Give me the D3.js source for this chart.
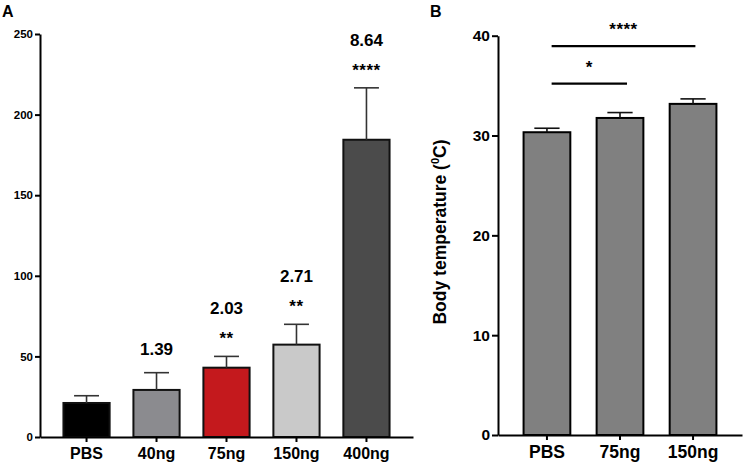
<!DOCTYPE html>
<html>
<head>
<meta charset="utf-8">
<script src="https://cdn.jsdelivr.net/npm/d3@7"></script>
<style>
  html, body { margin: 0; padding: 0; background: #fff; }
  svg { display: block; }
  text { font-family: "Liberation Sans", Arial, Helvetica, sans-serif; font-weight: bold; fill: #000; }
</style>
</head>
<body>
<svg id="chart" width="744" height="467"></svg>
<script>
// ---------- Data ----------
const catsA = ["PBS", "40ng", "75ng", "150ng", "400ng"];
const valuesA = [21.1, 29.2, 43.0, 57.3, 184.4];
const errA = [4.5, 10.7, 7.0, 12.6, 32.2];
const foldA = ["", "1.39", "2.03", "2.71", "8.64"];
const starsA = ["", "", "**", "**", "****"];
const colorsA = ["#000000", "#8b8b8f", "#c4191d", "#c9c9c9", "#4b4b4b"];
const ticksA = [0, 50, 100, 150, 200, 250];

const catsB = ["PBS", "75ng", "150ng"];
const valuesB = [30.33, 31.76, 33.17];
const errB = [0.40, 0.54, 0.50];
const ticksB = [0, 10, 20, 30, 40];
const sigB = [
  { from: "PBS", to: "75ng", label: "*" },
  { from: "PBS", to: "150ng", label: "****" }
];
const sigLevelsB = [35.2, 38.95];
const yTitleB = "Body temperature (";

// ---------- Drawing ----------
const svg = d3.select("#chart");
const FONT = "\"Liberation Sans\", Arial, Helvetica, sans-serif";

function styleAxis(g, size) {
  g.selectAll("path, line").attr("stroke", "#000").attr("stroke-width", 2);
  g.selectAll("text").style("font-size", size).style("font-family", FONT).style("font-weight", "bold").attr("fill", "#000");
}

// ===== Panel A =====
const xA = d3.scaleBand().domain(catsA).range([40, 413]).paddingInner(0.34).paddingOuter(0.335);
const yA = d3.scaleLinear().domain([0, 250]).range([437, 34]);

const gA = svg.append("g");

gA.selectAll("rect.bar").data(catsA).join("rect")
  .attr("class", "bar")
  .attr("x", d => xA(d))
  .attr("y", (d, i) => yA(valuesA[i]))
  .attr("width", xA.bandwidth())
  .attr("height", (d, i) => yA(0) - yA(valuesA[i]))
  .attr("fill", (d, i) => colorsA[i])
  .attr("stroke", "#111")
  .attr("stroke-width", 2);

const capA = xA.bandwidth() * 0.27;
catsA.forEach((c, i) => {
  const cx = xA(c) + xA.bandwidth() / 2;
  const top = yA(valuesA[i] + errA[i]);
  gA.append("line").attr("x1", cx).attr("x2", cx).attr("y1", yA(valuesA[i])).attr("y2", top)
    .attr("stroke", "#333").attr("stroke-width", 1.6);
  gA.append("line").attr("x1", cx - capA).attr("x2", cx + capA).attr("y1", top).attr("y2", top)
    .attr("stroke", "#333").attr("stroke-width", 1.6);
  let yPos = top - 18;
  if (starsA[i]) {
    gA.append("text").attr("x", cx).attr("y", yPos + 6).attr("text-anchor", "middle")
      .style("font-size", "17px").style("letter-spacing", "0.5px").text(starsA[i]);
    yPos -= 24;
  }
  if (foldA[i]) {
    gA.append("text").attr("x", cx).attr("y", yPos).attr("text-anchor", "middle")
      .style("font-size", "17px").text(foldA[i]);
  }
});

const axYA = gA.append("g").attr("transform", "translate(40,0)")
  .call(d3.axisLeft(yA).tickValues(ticksA).tickSize(5).tickSizeOuter(0).tickPadding(2));
styleAxis(axYA, "11.5px");

const axXA = gA.append("g").attr("transform", "translate(0,437)")
  .call(d3.axisBottom(xA).tickSize(5).tickSizeOuter(0).tickPadding(6));
styleAxis(axXA, "16px");

svg.append("text").attr("x", 2).attr("y", 17).style("font-size", "16px").text("A");

// ===== Panel B =====
const xB = d3.scaleBand().domain(catsB).range([498, 742]).paddingInner(0.36).paddingOuter(0.35);
const yB = d3.scaleLinear().domain([0, 40]).range([435, 35.7]);

const gB = svg.append("g");
gB.selectAll("rect.bar").data(catsB).join("rect")
  .attr("class", "bar")
  .attr("x", d => xB(d))
  .attr("y", (d, i) => yB(valuesB[i]))
  .attr("width", xB.bandwidth())
  .attr("height", (d, i) => yB(0) - yB(valuesB[i]))
  .attr("fill", "#808080")
  .attr("stroke", "#000")
  .attr("stroke-width", 2);

const capB = xB.bandwidth() * 0.27;
catsB.forEach((c, i) => {
  const cx = xB(c) + xB.bandwidth() / 2;
  const top = yB(valuesB[i] + errB[i]);
  gB.append("line").attr("x1", cx).attr("x2", cx).attr("y1", yB(valuesB[i])).attr("y2", top)
    .attr("stroke", "#111").attr("stroke-width", 1.6);
  gB.append("line").attr("x1", cx - capB).attr("x2", cx + capB).attr("y1", top).attr("y2", top)
    .attr("stroke", "#111").attr("stroke-width", 1.6);
});

sigB.forEach((s, i) => {
  const x1 = xB(s.from) + xB.bandwidth() * 0.6;
  const x2 = xB(s.to) + xB.bandwidth() * (i === 0 ? 0.65 : 0.55);
  const yy = yB(sigLevelsB[i]);
  gB.append("line").attr("x1", x1).attr("x2", x2).attr("y1", yy).attr("y2", yy)
    .attr("stroke", "#000").attr("stroke-width", 2.2);
  gB.append("text").attr("x", (x1 + x2) / 2).attr("y", yy - 11).attr("text-anchor", "middle")
    .style("font-size", "17px").style("letter-spacing", "0.5px").text(s.label);
});

const axYB = gB.append("g").attr("transform", "translate(498,0)")
  .call(d3.axisLeft(yB).tickValues(ticksB).tickSize(6).tickSizeOuter(0).tickPadding(2));
styleAxis(axYB, "15.5px");

const axXB = gB.append("g").attr("transform", "translate(0,435)")
  .call(d3.axisBottom(xB).tickSize(5).tickSizeOuter(0).tickPadding(6));
styleAxis(axXB, "17.5px");

const title = svg.append("text")
  .attr("transform", "translate(446,232) rotate(-90)")
  .attr("text-anchor", "middle")
  .style("font-size", "17.5px");
title.append("tspan").text(yTitleB);
title.append("tspan").attr("dy", -7).style("font-size", "11px").text("0");
title.append("tspan").attr("dy", 7).text("C)");

svg.append("text").attr("x", 430).attr("y", 17).style("font-size", "16px").text("B");
</script>
</body>
</html>
